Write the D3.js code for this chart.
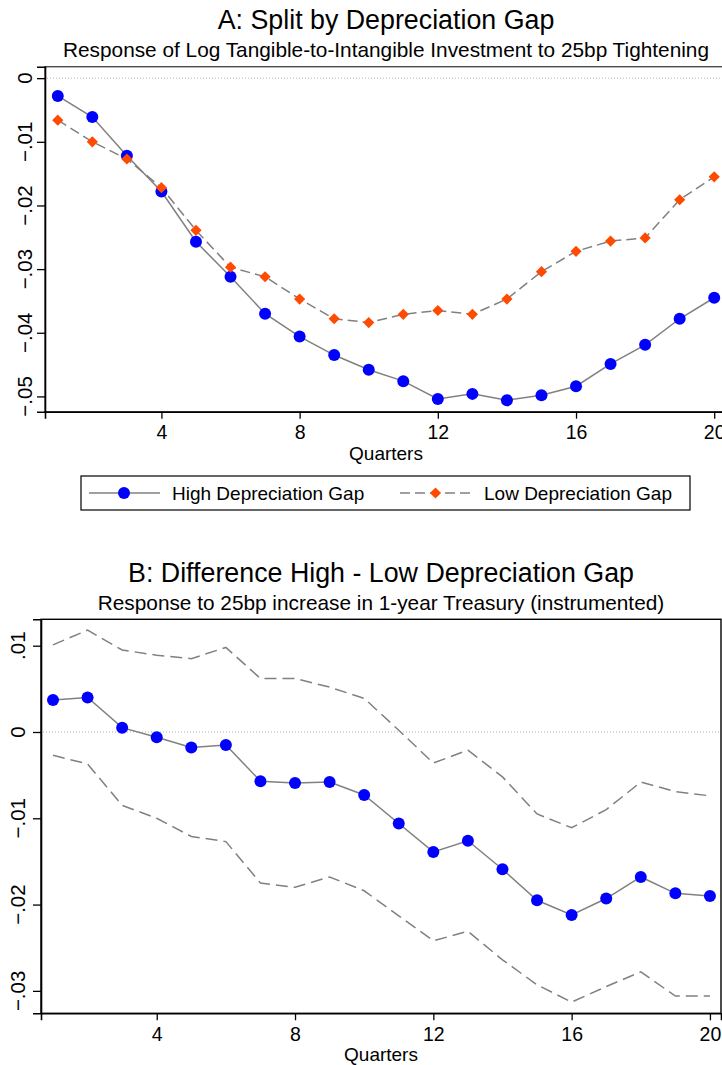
<!DOCTYPE html>
<html>
<head>
<meta charset="utf-8">
<script src="https://cdn.jsdelivr.net/npm/d3@7"></script>
<style>
  body { margin: 0; background: #fff; }
  svg { display: block; font-family: "Liberation Sans", Arial, Helvetica, sans-serif; }
</style>
</head>
<body>
<div id="chart"></div>
<script>
// quarters after the shock
const quarters = [1, 2, 3, 4, 5, 6, 7, 8, 9, 10, 11, 12, 13, 14, 15, 16, 17, 18, 19, 20];

// panel A: split by depreciation gap
const highGap = [-0.0028, -0.0061, -0.0122, -0.0178, -0.0257, -0.0312, -0.0370, -0.0406, -0.0435, -0.0458,
                 -0.0476, -0.0504, -0.0496, -0.0506, -0.0498, -0.0484, -0.0449, -0.0419, -0.0378, -0.0345];
const lowGap = [-0.0066, -0.0100, -0.0127, -0.0172, -0.0239, -0.0297, -0.0312, -0.0347, -0.0378, -0.0384,
                -0.0371, -0.0365, -0.0371, -0.0347, -0.0304, -0.0272, -0.0256, -0.0251, -0.0191, -0.0155];

// panel B: difference high - low, with confidence band
const diff = [0.0037, 0.0040, 0.0005, -0.0006, -0.0018, -0.0015, -0.0057, -0.0059, -0.0058, -0.0073,
              -0.0106, -0.0139, -0.0126, -0.0159, -0.0195, -0.0212, -0.0193, -0.0168, -0.0187, -0.0190];
const diffUpper = [0.0101, 0.0118, 0.0095, 0.0089, 0.0085, 0.0098, 0.0062, 0.0062, 0.0052, 0.0039,
                   0.0002, -0.0036, -0.0021, -0.0052, -0.0095, -0.0111, -0.0090, -0.0058, -0.0069, -0.0074];
const diffLower = [-0.0027, -0.0037, -0.0085, -0.0100, -0.0121, -0.0127, -0.0175, -0.0180, -0.0168, -0.0184,
                   -0.0213, -0.0242, -0.0231, -0.0264, -0.0293, -0.0313, -0.0295, -0.0278, -0.0306, -0.0306];

const xTicks = [4, 8, 12, 16, 20];
const yTicksA = [0, -0.01, -0.02, -0.03, -0.04, -0.05];
const yTicksB = [0.01, 0, -0.01, -0.02, -0.03];

const legendLabels = ["High Depreciation Gap", "Low Depreciation Gap"];

const width = 722;
const height = 1065;

const svg = d3.select("#chart")
    .append("svg")
    .attr("width", width)
    .attr("height", height);

const blue = "#0000ff";
const orange = "#ff4a00";
const lineGray = "#808080";

// stata style labels: .01, 0, -.01
function fmt(v) {
    if (v === 0) return "0";
    return d3.format(".2f")(v).replace("0.", ".");
}

function drawPanel(opts) {
    const { x, y, yTicks, title, subtitle, boxStroke } = opts;
    const [x0, x1] = x.range();
    const [yTop, yBot] = y.range();
    const g = svg.append("g");

    g.append("text")
        .attr("x", (x0 + x1) / 2)
        .attr("y", opts.titleY)
        .attr("text-anchor", "middle")
        .attr("font-size", 26.8)
        .text(title);

    g.append("text")
        .attr("x", (x0 + x1) / 2)
        .attr("y", opts.titleY + 28)
        .attr("text-anchor", "middle")
        .attr("font-size", 20.8)
        .text(subtitle);

    // plot region outline
    g.append("rect")
        .attr("x", x0)
        .attr("y", yTop)
        .attr("width", x1 - x0)
        .attr("height", yBot - yTop)
        .attr("fill", "none")
        .attr("stroke", boxStroke)
        .attr("stroke-width", 1.4);

    // zero reference line
    g.append("line")
        .attr("x1", x0 + 2)
        .attr("x2", x1)
        .attr("y1", y(0))
        .attr("y2", y(0))
        .attr("stroke", "#b0b0b0")
        .attr("stroke-width", 1)
        .attr("stroke-dasharray", "1,2");

    const yAxis = g.append("g")
        .attr("transform", `translate(${x0},0)`)
        .call(d3.axisLeft(y).tickValues(yTicks).tickSize(8).tickFormat(""));
    yAxis.select(".domain").attr("stroke", "#000").attr("stroke-width", 1.6);
    yAxis.selectAll(".tick line").attr("stroke", "#000").attr("stroke-width", 1.3);

    yTicks.forEach(v => {
        g.append("text")
            .attr("transform", `translate(${x0 - opts.labelGap},${y(v)}) rotate(-90)`)
            .attr("text-anchor", "middle")
            .attr("font-size", 20.5)
            .text(fmt(v));
    });

    const xAxis = g.append("g")
        .attr("transform", `translate(0,${yBot})`)
        .call(d3.axisBottom(x).tickValues(xTicks).tickSize(7).tickFormat(d3.format("d")));
    xAxis.select(".domain").attr("stroke", "#000").attr("stroke-width", 1.6);
    xAxis.selectAll(".tick line").attr("stroke", "#000").attr("stroke-width", 1.3);
    xAxis.selectAll(".tick text")
        .attr("font-size", 19.5)
        .attr("font-family", "Liberation Sans, Arial, sans-serif")
        .attr("fill", "#000")
        .attr("dy", null)
        .attr("y", 27.5);

    g.append("text")
        .attr("x", (x0 + x1) / 2)
        .attr("y", yBot + 48)
        .attr("text-anchor", "middle")
        .attr("font-size", 19)
        .text("Quarters");

    return g;
}

function drawSeries(g, x, y, values, dash) {
    const line = d3.line()
        .x((d, i) => x(quarters[i]))
        .y(d => y(d));
    g.append("path")
        .datum(values)
        .attr("d", line)
        .attr("fill", "none")
        .attr("stroke", lineGray)
        .attr("stroke-width", 1.5)
        .attr("stroke-dasharray", dash);
}

function drawDots(g, x, y, values) {
    g.append("g")
        .selectAll("circle")
        .data(values)
        .enter().append("circle")
        .attr("cx", (d, i) => x(quarters[i]))
        .attr("cy", d => y(d))
        .attr("r", 6)
        .attr("fill", blue);
}

function drawDiamonds(g, x, y, values) {
    const diamond = d3.symbol().type(d3.symbolDiamond2).size(80);
    g.append("g")
        .selectAll("path")
        .data(values)
        .enter().append("path")
        .attr("d", diamond)
        .attr("transform", (d, i) => `translate(${x(quarters[i])},${y(d)})`)
        .attr("fill", orange);
}

// ---- Panel A ----
const xA = d3.scaleLinear().domain([0.63, 20.37]).range([45, 727]);
const yA = d3.scaleLinear().domain([0.0018, -0.0524]).range([66.7, 411.7]);

const gA = drawPanel({
    x: xA, y: yA, yTicks: yTicksA, titleY: 29, boxStroke: "#4a4a4a", labelGap: 13,
    title: "A: Split by Depreciation Gap",
    subtitle: "Response of Log Tangible-to-Intangible Investment to 25bp Tightening"
});

drawSeries(gA, xA, yA, highGap, null);
drawSeries(gA, xA, yA, lowGap, "10,5");
drawDots(gA, xA, yA, highGap);
drawDiamonds(gA, xA, yA, lowGap);

// legend
const legend = svg.append("g");
legend.append("rect")
    .attr("x", 81).attr("y", 476)
    .attr("width", 609).attr("height", 34)
    .attr("fill", "#fff")
    .attr("stroke", "#000")
    .attr("stroke-width", 1.2);

legend.append("line")
    .attr("x1", 89).attr("x2", 160).attr("y1", 493).attr("y2", 493)
    .attr("stroke", lineGray).attr("stroke-width", 1.5);
legend.append("circle")
    .attr("cx", 124).attr("cy", 493).attr("r", 6).attr("fill", blue);
legend.append("text")
    .attr("x", 172).attr("y", 500)
    .attr("font-size", 19)
    .text(legendLabels[0]);

legend.append("line")
    .attr("x1", 400).attr("x2", 471).attr("y1", 493).attr("y2", 493)
    .attr("stroke", lineGray).attr("stroke-width", 1.5)
    .attr("stroke-dasharray", "10,5");
legend.append("path")
    .attr("d", d3.symbol().type(d3.symbolDiamond2).size(80))
    .attr("transform", "translate(435.5,493)")
    .attr("fill", orange);
legend.append("text")
    .attr("x", 484).attr("y", 500)
    .attr("font-size", 19)
    .text(legendLabels[1]);

// ---- Panel B ----
const xB = d3.scaleLinear().domain([0.653, 20.32]).range([41, 721]);
const yB = d3.scaleLinear().domain([0.01306, -0.0326]).range([619.3, 1013.3]);

const gB = drawPanel({
    x: xB, y: yB, yTicks: yTicksB, titleY: 582, boxStroke: "#000", labelGap: 16,
    title: "B: Difference High - Low Depreciation Gap",
    subtitle: "Response to 25bp increase in 1-year Treasury (instrumented)"
});

drawSeries(gB, xB, yB, diffUpper, "12,6");
drawSeries(gB, xB, yB, diffLower, "12,6");
drawSeries(gB, xB, yB, diff, null);
drawDots(gB, xB, yB, diff);
</script>
</body>
</html>
